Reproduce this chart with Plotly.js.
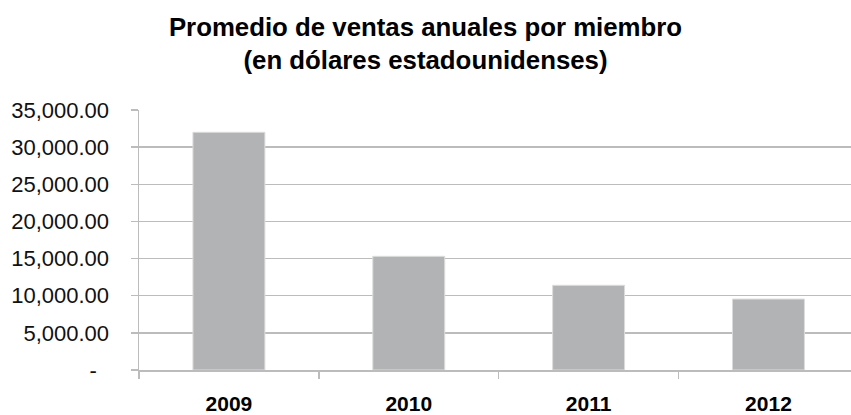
<!DOCTYPE html>
<html>
<head>
<meta charset="utf-8">
<script src="https://cdn.plot.ly/plotly-3.0.1.min.js"></script>
<style>html,body{margin:0;padding:0;background:#fff;}</style>
</head>
<body>
<div id="chart" style="width:851px;height:415px;"></div>
<script>
const years = ["2009", "2010", "2011", "2012"];
const avgSales = [32000, 15300, 11400, 9550];
const yTickVals = [0, 5000, 10000, 15000, 20000, 25000, 30000, 35000];
const yTickText = ["-\u00a0\u00a0", "5,000.00", "10,000.00", "15,000.00", "20,000.00", "25,000.00", "30,000.00", "35,000.00"];

const trace = {
  type: "bar",
  x: years,
  y: avgSales,
  marker: { color: "#b2b3b5", line: { color: "#dcdcdc", width: 1 } },
  hoverinfo: "none"
};

const axisGray = "#bcbcbc";
const layout = {
  width: 851, height: 415,
  margin: { l: 139, r: 0, t: 110, b: 45 },
  paper_bgcolor: "#ffffff", plot_bgcolor: "#ffffff",
  font: { family: "Liberation Sans, Arial, sans-serif", color: "#111111" },
  title: {
    text: "<b>Promedio de ventas anuales por miembro<br>(en dólares estadounidenses)</b>",
    font: { size: 25.8, color: "#000000", family: "Liberation Sans, Arial, sans-serif" },
    x: 0.5, xref: "container", xanchor: "center",
    y: 0.914, yref: "container", yanchor: "top"
  },
  bargap: 0.6,
  showlegend: false,
  xaxis: {
    type: "category",
    range: [-0.5, 3.459],
    showline: true, linecolor: axisGray, linewidth: 1.5,
    ticks: "outside", tickson: "boundaries", ticklen: 7, tickcolor: axisGray, tickwidth: 1.5,
    showgrid: false, zeroline: false,
    tickfont: { size: 21, color: "#000000", family: "Liberation Sans, Arial, sans-serif", weight: "bold" },
    ticklabelstandoff: 14
  },
  yaxis: {
    range: [0, 35000],
    tickvals: yTickVals, ticktext: yTickText,
    showline: true, linecolor: axisGray, linewidth: 1.5,
    ticks: "outside", ticklen: 7, tickcolor: axisGray, tickwidth: 1.5,
    showgrid: true, gridcolor: axisGray, gridwidth: 1.5,
    zeroline: false,
    tickfont: { size: 22, color: "#111111", family: "Liberation Sans, Arial, sans-serif" },
    ticklabelstandoff: 17
  }
};

Plotly.newPlot("chart", [trace], layout, { displayModeBar: false, staticPlot: true });
</script>
</body>
</html>
